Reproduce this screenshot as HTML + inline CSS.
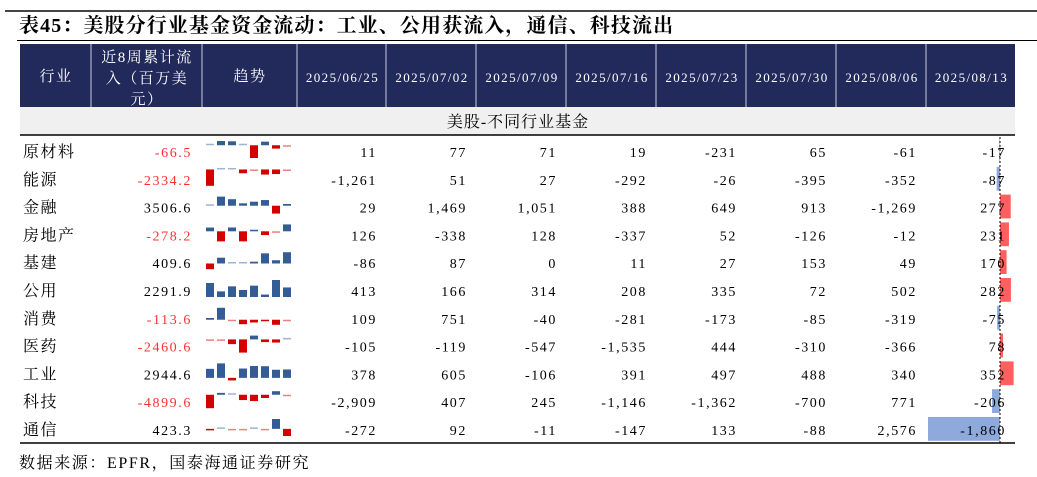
<!DOCTYPE html>
<html><head><meta charset="utf-8">
<style>
body{margin:0;background:#fff;width:1037px;height:477px;overflow:hidden;position:relative;font-family:"Liberation Serif","Noto Serif CJK SC",serif;}
.abs{position:absolute;}
</style></head>
<body>
<div class="abs" style="left:5px;top:10px;width:1032px;height:2px;background:#444"></div>
<div class="abs" style="left:19px;top:12px;font-size:20px;letter-spacing:1.1px;font-weight:bold;font-family:'Liberation Serif','Noto Serif CJK SC',serif;line-height:28px;white-space:nowrap">表45：美股分行业基金资金流动：工业、公用获流入，通信、科技流出</div>
<div class="abs" style="left:17px;top:40px;width:1020px;height:1px;background:#000"></div>
<svg id="tbl" class="abs" style="left:0;top:0" width="1037" height="477"></svg>
<div class="abs" style="left:19px;top:453px;font-size:16px;letter-spacing:1.6px;line-height:22px;white-space:nowrap">数据来源：EPFR，国泰海通证券研究</div>
<script>
const industries=["原材料","能源","金融","房地产","基建","公用","消费","医药","工业","科技","通信"];
const cumulative=[-66.5,-2334.2,3506.6,-278.2,409.6,2291.9,-113.6,-2460.6,2944.6,-4899.6,423.3];
const dates=["2025/06/25","2025/07/02","2025/07/09","2025/07/16","2025/07/23","2025/07/30","2025/08/06","2025/08/13"];
const flows=[
[11,77,71,19,-231,65,-61,-17],
[-1261,51,27,-292,-26,-395,-352,-87],
[29,1469,1051,388,649,913,-1269,277],
[126,-338,128,-337,52,-126,-12,231],
[-86,87,0,11,27,153,49,170],
[413,166,314,208,335,72,502,282],
[109,751,-40,-281,-173,-85,-319,-75],
[-105,-119,-547,-1535,444,-310,-366,78],
[378,605,-106,391,497,488,340,352],
[-2909,407,245,-1146,-1362,-700,771,-206],
[-272,92,-11,-147,133,-88,2576,-1860]];
const NS="http://www.w3.org/2000/svg";
const svg=document.getElementById('tbl');
function mk(tag,attrs,parent){const e=document.createElementNS(NS,tag);for(const k in attrs)e.setAttribute(k,attrs[k]);(parent||svg).appendChild(e);return e;}
const fmt=v=>{const s=Math.abs(v).toLocaleString('en-US');return (v<0?'-':'')+s;};
const colX=[20,91,202,297,386,476,566,656,746,836,926,1015];
let h=mk('rect',{x:20,y:44,width:995,height:63,fill:'#212a5a'});


for(let i=1;i<colX.length-1;i++){let l=mk('line',{x1:colX[i],y1:44,x2:colX[i],y2:107,stroke:'#c8cce0','stroke-width':1});}
function txt(s,x,y,attrs,name){const t=mk('text',Object.assign({x:x,y:y,'font-size':14},attrs));t.textContent=s;return t;}
const hw={fill:'#fff','text-anchor':'middle','font-size':15,'letter-spacing':'1.5px','font-family':"'Liberation Serif','Noto Serif CJK SC',serif"};
txt('行业',56,81,hw,'header-industry');
txt('近8周累计流',147,62,hw,'header-cumulative');
txt('入（百万美',147,83,hw,'header-cumulative');
txt('元）',147,104,hw,'header-cumulative');
txt('趋势',250,81,hw,'header-trend');
dates.forEach((d,i)=>txt(d,(colX[i+3]+colX[i+4])/2+1,82,Object.assign({},hw,{'font-size':13,'letter-spacing':'1.4px'}),'header-date'));
let g=mk('rect',{x:20,y:107,width:995,height:28,fill:'#f0f0f0'});

txt('美股-不同行业基金',518,127,{'text-anchor':'middle','font-size':16,'letter-spacing':'1px'},'group-label');
mk('line',{x1:20,y1:135,x2:1015,y2:135,stroke:'#000','stroke-width':1.5});
mk('line',{x1:20,y1:443,x2:1015,y2:443,stroke:'#000','stroke-width':1.5});
const rowTop=137,rowH=27.8;
const zeroX=1000,scale=72/1860;
industries.forEach((name,r)=>{
  const y0=rowTop+r*rowH,ty=y0+20;
  txt(name,23,ty,{'font-size':16,'letter-spacing':'1.5px'},'industry-label');
  txt(cumulative[r].toFixed(1),192,ty,{'text-anchor':'end','font-size':14,'letter-spacing':'1.6px',fill:cumulative[r]<0?'#ff3030':'#000'},'cumulative-value');
  const vals=flows[r];const mx=Math.max(0,...vals),mn=Math.min(0,...vals);const rng=(mx-mn)||1;const sh=17,st=y0+4;
  const zy=st+sh*mx/rng;const ma=Math.max(...vals.map(Math.abs));
  vals.forEach((v,i)=>{
    const bx=206+i*11;let by=v>=0?zy-sh*v/rng:zy;let bh=Math.max(1.5,sh*Math.abs(v)/rng);if(v>=0&&bh===1.5)by=zy-1.5;
    const light=Math.abs(v)<0.1*ma;
    const col=v>=0?(light?'#9fb3d3':'#345d96'):(light?'#f08080':'#d40000');
    const b=mk('rect',{x:bx,y:by,width:8,height:bh,fill:col});
    
  });
  const last=vals[7];
  const w=Math.abs(last)*scale;
  const db=mk('rect',{x:last>=0?zeroX:zeroX-w,y:y0+2,width:w,height:rowH-4,fill:last>=0?'#ff5f5f':'#8eaadc'});
  
  vals.forEach((v,i)=>txt(fmt(v),colX[i+4]-9,ty,{'text-anchor':'end','font-size':14,'letter-spacing':'1.6px'},'flow-value'));
});
const zl=mk('line',{x1:zeroX,y1:137,x2:zeroX,y2:443,stroke:'#000','stroke-width':1,'stroke-dasharray':'2,2'});

</script>
</body></html>
